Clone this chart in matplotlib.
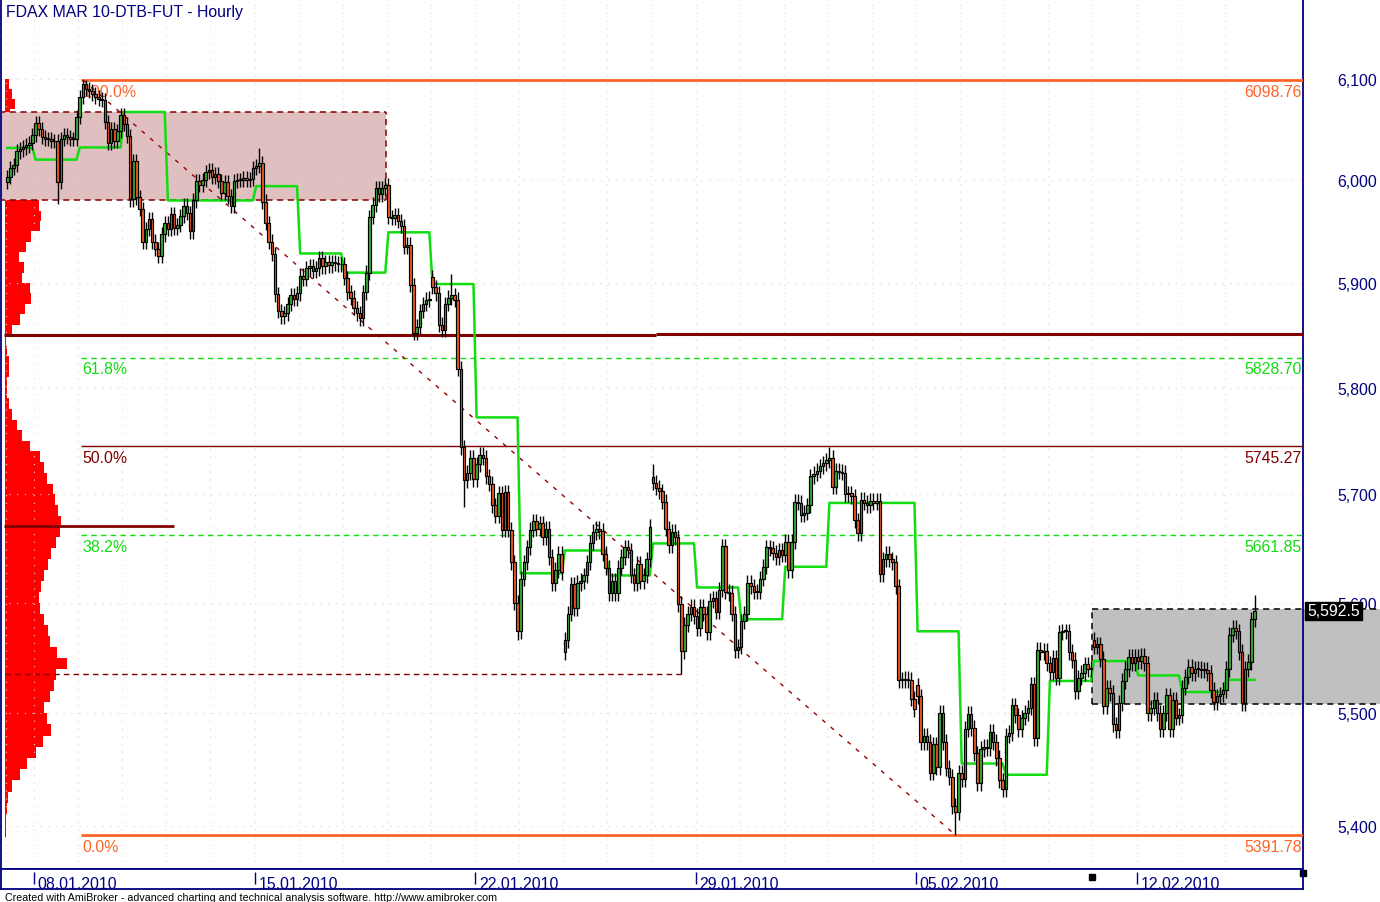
import numpy as np
import matplotlib.pyplot as plt
from matplotlib.patches import Rectangle
from matplotlib.ticker import FixedLocator, NullLocator, FuncFormatter

plt.rcParams['font.family'] = ['Liberation Sans', 'DejaVu Sans']

# ------------------------------------------------------------
# data: FDAX MAR 10 hourly closes, one row per day
# ------------------------------------------------------------

days = ["07.01", "08.01", "11.01", "12.01", "13.01", "14.01", "15.01",
        "18.01", "19.01", "20.01", "21.01", "22.01",
        "25.01", "26.01", "27.01", "28.01", "29.01",
        "01.02", "02.02", "03.02", "04.02", "05.02",
        "08.02", "09.02", "10.02", "11.02", "12.02",
        "15.02", "16.02"]

closes = [
    [6003, 6012, 6015, 6028, 6030, 6032, 6034, 6036, 6044],
    [6056, 6050, 6042, 6040, 6040, 6038, 6038, 5998, 6040, 6044, 6042, 6040, 6040, 6062],
    [6082, 6095, 6090, 6088, 6085, 6082, 6080, 6079, 6057, 6036, 6050, 6038, 6048, 6064],
    [6055, 6043, 5981, 6019, 5983, 5972, 5940, 5952, 5962, 5940, 5933, 5926, 5947, 5958],
    [5952, 5967, 5953, 5956, 5965, 5975, 5968, 5950, 5980, 5999, 5995, 6000, 6008, 6010],
    [6003, 6006, 5999, 5987, 5998, 5984, 5975, 5999, 6000, 6000, 6002, 6000, 6001, 6012],
    [6014, 6017, 5979, 5958, 5940, 5928, 5889, 5873, 5868, 5871, 5880, 5888, 5885, 5890],
    [5907, 5904, 5914, 5916, 5912, 5914, 5924, 5916, 5920, 5917, 5920, 5919, 5918, 5918],
    [5905, 5891, 5886, 5876, 5871, 5866, 5891, 5910, 5964, 5976, 5992, 5986, 5992, 5995],
    [5964, 5963, 5966, 5960, 5955, 5935, 5937, 5898, 5852, 5858, 5873, 5880, 5884, 5885],
    [5896, 5890, 5860, 5855, 5880, 5886, 5888, 5884, 5818, 5744, 5713, 5720, 5734, 5714],
    [5728, 5737, 5734, 5717, 5710, 5690, 5680, 5701, 5667, 5702, 5667, 5637, 5600, 5574],
    [5622, 5637, 5651, 5667, 5675, 5668, 5673, 5660, 5668, 5642, 5618, 5630, 5645, 5628],
    [5566, 5590, 5617, 5595, 5618, 5620, 5625, 5637, 5655, 5665, 5668, 5666, 5645, 5632],
    [5609, 5620, 5609, 5632, 5642, 5651, 5648, 5625, 5618, 5636, 5620, 5625, 5640, 5670],
    [5711, 5706, 5703, 5693, 5668, 5653, 5665, 5660, 5599, 5556, 5580, 5590, 5596, 5588],
    [5577, 5596, 5590, 5573, 5602, 5604, 5592, 5612, 5652, 5610, 5609, 5590, 5557, 5560],
    [5583, 5590, 5618, 5615, 5610, 5610, 5622, 5633, 5651, 5650, 5646, 5642, 5648, 5644],
    [5656, 5630, 5656, 5693, 5692, 5681, 5683, 5690, 5717, 5719, 5722, 5726, 5729, 5732],
    [5734, 5707, 5722, 5721, 5720, 5700, 5701, 5698, 5676, 5664, 5695, 5692, 5690, 5694],
    [5692, 5694, 5626, 5640, 5645, 5640, 5637, 5615, 5530, 5530, 5531, 5530, 5513, 5504],
    [5515, 5474, 5480, 5474, 5447, 5472, 5452, 5500, 5474, 5451, 5443, 5417, 5412, 5447],
    [5441, 5486, 5499, 5487, 5464, 5438, 5468, 5470, 5469, 5483, 5474, 5460, 5440, 5432],
    [5480, 5482, 5507, 5498, 5486, 5496, 5500, 5505, 5526, 5478, 5557, 5555, 5556, 5545],
    [5537, 5550, 5532, 5573, 5574, 5574, 5555, 5548, 5520, 5532, 5536, 5544, 5540, 5540],
    [5560, 5562, 5549, 5506, 5523, 5518, 5490, 5485, 5509, 5529, 5540, 5551, 5545, 5551],
    [5547, 5552, 5545, 5500, 5505, 5512, 5500, 5486, 5500, 5516, 5486, 5512, 5496, 5498],
    [5523, 5533, 5542, 5536, 5540, 5540, 5539, 5539, 5536, 5521, 5510, 5515, 5517, 5521],
    [5540, 5571, 5577, 5574, 5555, 5509, 5540, 5546, 5585, 5592.5],
]

first_open = 5998
gap_open = {("21.01", 0): 5906, ("26.01", 0): 5555, ("28.01", 0): 5716,
            ("05.02", 0): 5525, ("11.02", 0): 5566}
spike_high = {("11.01", 1): 6098.76, ("15.01", 1): 6031, ("21.01", 6): 5909,
              ("28.01", 0): 5728, ("03.02", 0): 5744, ("16.02", 9): 5607}
spike_low = {("08.01", 7): 5977, ("21.01", 10): 5688, ("22.01", 13): 5566,
             ("28.01", 9): 5535, ("05.02", 12): 5391.78}

# green daily stop line, one level per day
day_level = [6031.5, 6020, 6032, 6067, 5980, 5980, 5994, 5928.5, 5910, 5949,
             5899, 5772, 5627, 5648, 5625, 5654.5, 5614, 5585, 5633, 5692,
             5692, 5574, 5455, 5445, 5529, 5547, 5534, 5519, 5530]

# fibonacci retracement between swing high and swing low
hi_bar = ("11.01", 1)
lo_bar = ("05.02", 12)
fib_names = ["100.0%", "61.8%", "50.0%", "38.2%", "0.0%"]
fib_values = [6098.76, 5828.70, 5745.27, 5661.85, 5391.78]

# volume at price profile (10 point bins starting at 5390)
profile_start = 5390
profile_step = 10
profile = [1, 1, 2, 3, 7, 15, 22, 31, 38, 46,
           42, 39, 45, 49, 51, 62, 52, 45, 43, 39,
           35, 34, 36, 39, 43, 46, 51, 55, 56, 53,
           50, 48, 42, 39, 35, 25, 17, 12, 7, 4,
           2, 2, 4, 4, 2, 1, 7, 15, 20, 26,
           25, 17, 19, 14, 21, 26, 35, 36, 34, 40,
           45, 47, 43, 40, 35, 31, 25, 5, 10, 7, 4]

support = 5850.2
support_step = ("28.01", 1)
poc_level = 5670.6
poc_end = ("13.01", 2)
value_low = 5535.4
value_low_end = ("28.01", 9)

zone_hi, zone_lo = 6067, 5980
zone_end = ("20.01", 0)
range_hi, range_lo = 5594.3, 5508.3
range_start = ("11.02", 0)
last_price = 5592.5

yticks = [5400, 5500, 5600, 5700, 5800, 5900, 6000, 6100]
week_days = ["08.01", "15.01", "22.01", "29.01", "05.02", "12.02"]

# ------------------------------------------------------------
# build OHLC
# ------------------------------------------------------------
counts = [len(r) for r in closes]
day_start = np.concatenate([[0], np.cumsum(counts)[:-1]])
close = np.array([v for r in closes for v in r], dtype=float)
n = len(close)
idx = np.arange(n)


def bar_of(ref):
    d, k = ref
    return day_start[days.index(d)] + k


fib_hi, fib_lo = max(fib_values), min(fib_values)

wick = 7
opn = np.r_[first_open, close[:-1]]
for ref, v in gap_open.items():
    opn[bar_of(ref)] = v
high = np.maximum(opn, close) + wick
low = np.minimum(opn, close) - wick
for ref, v in spike_high.items():
    high[bar_of(ref)] = v
for ref, v in spike_low.items():
    low[bar_of(ref)] = v
high = np.minimum(high, fib_hi)
low = np.maximum(low, fib_lo)

level = np.repeat(day_level, counts)

# ------------------------------------------------------------
# figure
# ------------------------------------------------------------
W, H = 1380, 903
PX = 3.15          # pixels per bar
X0 = 7.25          # pixel of bar 0
FS = 11.4


def px2bar(p):
    return (p - X0) / PX


navy = "#000080"
dark_red = "#800000"
orange = "#ff6428"
lime = "#11dd11"

fig = plt.figure(figsize=(W / 100, H / 100), dpi=100)
ax = fig.add_axes([1 / W, 33 / H, 1302 / W, 870 / H])
ax.set_yscale("log")
ax.set_ylim(5361.9, 6179.9)
ax.set_xlim(px2bar(1), px2bar(1303))

# volume profile
ax.barh(profile_start + profile_step * np.arange(len(profile)),
        np.array(profile) / PX, height=profile_step, left=px2bar(5),
        align="edge", color="#ff0000", lw=0, zorder=1)

# pink supply zone
zx1 = bar_of(zone_end) - 0.7
ax.add_patch(Rectangle((px2bar(-5), zone_lo), zx1 - px2bar(-5), zone_hi - zone_lo,
                       fc="#dfbfbf", ec="none", zorder=2))
ax.hlines([zone_lo, zone_hi], px2bar(-5), zx1, colors=dark_red,
          linestyles=(0, (4, 3)), lw=1.1, zorder=3)
ax.vlines(zx1, zone_lo, zone_hi, colors=dark_red, linestyles=(0, (4, 3)), lw=1.1, zorder=3)

# grey trading range (runs past the axis)
rx0 = bar_of(range_start) - 0.5
rx1 = px2bar(W + 2)
ax.add_patch(Rectangle((rx0, range_lo), rx1 - rx0, range_hi - range_lo,
                       fc="#c0c0c0", ec="none", zorder=2, clip_on=False))
ax.hlines([range_lo, range_hi], rx0, rx1, colors="black", linestyles=(0, (4, 3)),
          lw=1.1, zorder=3, clip_on=False)
ax.vlines(rx0, range_lo, range_hi, colors="black", linestyles=(0, (4, 3)), lw=1.1, zorder=3)

# grid
for p in yticks:
    ax.axhline(p, color="#f0cccc", lw=0.8, ls=(0, (1, 6)), zorder=2.5)
for s in day_start:
    ax.axvline(s - 0.5, color="#f0cccc", lw=0.8, ls=(0, (1, 6)), zorder=2.5)

# fibonacci levels
ix_hi, ix_lo = bar_of(hi_bar), bar_of(lo_bar)
fib_style = {"100.0%": (orange, "-", 2.0), "61.8%": (lime, (0, (4, 3)), 1.0),
             "50.0%": (dark_red, "-", 1.0), "38.2%": (lime, (0, (4, 3)), 1.0),
             "0.0%": (orange, "-", 2.0)}
for name, p in zip(fib_names, fib_values):
    col, ls, lw = fib_style[name]
    ax.hlines(p, ix_hi - 0.6, px2bar(1304), colors=col, linestyles=ls, lw=lw, zorder=3)
    ax.annotate(name, (ix_hi - 0.6, p), xytext=(1, -11.5), textcoords="offset points",
                color=col, fontsize=FS, va="baseline", ha="left", zorder=3)
    ax.annotate(f"{p:.2f}", (1, p), xycoords=("axes fraction", "data"),
                xytext=(-1, -11.5), textcoords="offset points",
                color=col, fontsize=FS, va="baseline", ha="right", zorder=3)

ax.plot([ix_hi, ix_lo], [fib_hi, fib_lo], color="#990000", lw=1,
        ls=(0, (3, 5)), zorder=3)

# horizontal support lines
sx = bar_of(support_step)
ax.hlines(support, px2bar(4), sx, colors=dark_red, lw=2.2, zorder=3)
ax.hlines(support + 1.0, sx, px2bar(1304), colors=dark_red, lw=2.2, zorder=3)
ax.hlines(poc_level, px2bar(4), bar_of(poc_end), colors=dark_red, lw=2.0, zorder=3)
ax.hlines(value_low, px2bar(5), bar_of(value_low_end), colors=dark_red,
          linestyles=(0, (4, 3)), lw=1.0, zorder=3)

# green daily line
ax.plot(idx, level, color=lime, lw=1.8, zorder=4)

# candles
up = close >= opn
ax.vlines(idx, low, high, colors="black", lw=1.0, zorder=5)
body = np.maximum(np.abs(close - opn), 0.8)
ax.bar(idx, body, bottom=np.minimum(opn, close), width=0.8,
       color=np.where(up, "#30b030", "#f05a20"), edgecolor="black",
       linewidth=0.85, zorder=6)

# axes styling
ax.set_xticks([])
ax.yaxis.tick_right()
ax.yaxis.set_major_locator(FixedLocator(yticks))
ax.yaxis.set_minor_locator(NullLocator())
ax.yaxis.set_major_formatter(FuncFormatter(lambda v, _: f"{v:,.0f}"))
ax.tick_params(axis="y", length=0, pad=25, labelsize=FS, labelcolor=navy)
for sp in ax.spines.values():
    sp.set_color(navy)
    sp.set_linewidth(1.3)

ax.annotate(f"{last_price:,.1f}", (1, last_price), xycoords=("axes fraction", "data"),
            xytext=(3, 0), textcoords="offset points", ha="left", va="center",
            color="white", fontsize=FS, zorder=10, annotation_clip=False,
            bbox=dict(boxstyle="square,pad=0.12", fc="black", ec="black"))

fig.text(6 / W, 1 - 17 / H, "FDAX MAR 10-DTB-FUT - Hourly", color=navy,
         fontsize=FS, va="baseline", ha="left")

# date strip
axd = fig.add_axes([1 / W, 13 / H, 1302 / W, 20 / H])
axd.set_xlim(ax.get_xlim())
axd.set_ylim(0, 1)
axd.set_xticks([])
axd.set_yticks([])
for sp in axd.spines.values():
    sp.set_color(navy)
    sp.set_linewidth(1.3)
for d in week_days:
    t = day_start[days.index(d)] - 0.5
    axd.vlines(t, 0.25, 0.85, colors=navy, lw=1)
    axd.text(t + 1.2, 0.07, f"{d}.2010", color=navy, fontsize=FS,
             va="baseline", ha="left")
axd.plot([rx0], [0.62], "s", color="black", ms=4)
axd.plot([px2bar(1303)], [0.8], "s", color="black", ms=4, clip_on=False)

fig.text(5 / W, 2 / H, "Created with AmiBroker - advanced charting and technical "
         "analysis software. http://www.amibroker.com", fontsize=7.65,
         color="black", va="baseline", ha="left")

fig.savefig("out.png", dpi=100)
